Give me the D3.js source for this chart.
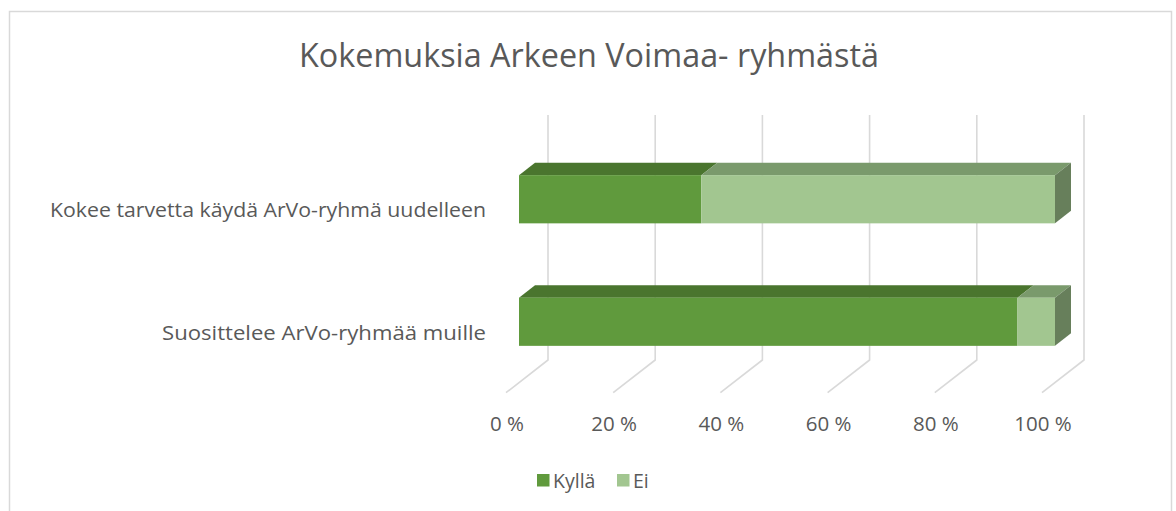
<!DOCTYPE html>
<html>
<head>
<meta charset="utf-8">
<script src="https://cdn.jsdelivr.net/npm/d3@7/dist/d3.min.js"></script>
<style>
  html, body { margin: 0; padding: 0; background: #fff; }
  svg { display: block; font-family: "Open Sans", "Noto Sans", sans-serif; }
</style>
</head>
<body>
<svg id="chart" width="1176" height="511"></svg>
<script>
// ---- data ----
const title = "Kokemuksia Arkeen Voimaa- ryhmästä";
const categories = ["Kokee tarvetta käydä ArVo-ryhmä uudelleen", "Suosittelee ArVo-ryhmää muille"];
const seriesNames = ["Kyllä", "Ei"];
const kylla = [34, 93];
const ei = [66, 7];
const tickValues = [0, 20, 40, 60, 80, 100];
const tickLabels = ["0 %", "20 %", "40 %", "60 %", "80 %", "100 %"];

// ---- styles ----
const frontColors = ["#609a3d", "#a2c690"];
const topColors = ["#4a752e", "#7a9a6c"];
const sideColors = ["#3f6427", "#677f5b"];
const textColor = "#595959";
const gridColor = "#d9d9d9";
const catLabelWidths = [436, 324];

const svg = d3.select("#chart");

// chart border
svg.append("rect")
  .attr("x", 9.5).attr("y", 11.5).attr("width", 1162).attr("height", 520)
  .attr("fill", "#fff").attr("stroke", "#d9d9d9").attr("stroke-width", 1.5);

// scales
const x = d3.scaleLinear().domain([0, 100]).range([519, 1055]);
const y = d3.scaleBand().domain(categories).range([138, 383])
  .paddingInner(0.6066).paddingOuter(0.3033);

// 3D geometry: depth offsets
const barDx = 16, barDy = -12.5;         // bar depth
const frontDx = -13, frontDy = 10.2;     // from bar front to floor front edge
const backDx = 29, backDy = -22.5;       // from bar front to back wall
const wallTop = 115, wallBottom = 360;

// gridlines: back wall vertical + floor diagonal
const g = svg.append("g");
tickValues.forEach(v => {
  const bx = x(v) + backDx;
  const fx = x(v) + frontDx;
  g.append("path")
    .attr("d", `M${bx},${wallTop} L${bx},${wallBottom} L${fx},${wallBottom + (frontDy - backDy)}`)
    .attr("fill", "none").attr("stroke", gridColor).attr("stroke-width", 1.6);
});

// tick labels
svg.append("g").selectAll("text").data(tickValues).join("text")
  .attr("x", d => x(d) + frontDx + 1)
  .attr("y", 431)
  .attr("text-anchor", "middle")
  .attr("fill", textColor)
  .attr("font-size", 20.5)
  .text((d, i) => tickLabels[i]);

// stacked data
const rows = categories.map((c, i) => ({ cat: c, Kyllä: kylla[i], Ei: ei[i] }));
const stack = d3.stack().keys(seriesNames)(rows);

const bars = svg.append("g");
stack.forEach((layer, si) => {
  layer.forEach(seg => {
    const cat = seg.data.cat;
    const x0 = x(seg[0]), x1 = x(seg[1]);
    const y0 = y(cat), h = y.bandwidth();
    // top face
    bars.append("path")
      .attr("d", `M${x0},${y0} L${x0 + barDx},${y0 + barDy} L${x1 + barDx},${y0 + barDy} L${x1},${y0} Z`)
      .attr("fill", topColors[si]);
    // front face
    bars.append("rect")
      .attr("x", x0).attr("y", y0).attr("width", x1 - x0).attr("height", h)
      .attr("fill", frontColors[si]);
    // right side (only last segment visible)
    if (si === stack.length - 1) {
      bars.append("path")
        .attr("d", `M${x1},${y0} L${x1 + barDx},${y0 + barDy} L${x1 + barDx},${y0 + barDy + h} L${x1},${y0 + h} Z`)
        .attr("fill", sideColors[si]);
    }
  });
});

// category labels
svg.append("g").selectAll("text").data(categories).join("text")
  .attr("x", 486)
  .attr("y", d => y(d) + y.bandwidth() / 2 + 18)
  .attr("text-anchor", "end")
  .attr("fill", textColor)
  .attr("font-size", 20.5)
  .attr("textLength", (d, i) => catLabelWidths[i])
  .attr("lengthAdjust", "spacingAndGlyphs")
  .text(d => d);

// title
svg.append("text")
  .attr("x", 589).attr("y", 67)
  .attr("text-anchor", "middle")
  .attr("fill", textColor)
  .attr("font-size", 32)
  .attr("textLength", 580)
  .attr("lengthAdjust", "spacingAndGlyphs")
  .text(title);

// legend
const legend = svg.append("g");
const legendX = [537, 617];
seriesNames.forEach((name, i) => {
  legend.append("rect")
    .attr("x", legendX[i]).attr("y", 474).attr("width", 12.5).attr("height", 12.5)
    .attr("fill", frontColors[i]);
  legend.append("text")
    .attr("x", legendX[i] + 16).attr("y", 487.5)
    .attr("fill", textColor)
    .attr("font-size", 19.5)
    .text(name);
});
</script>
</body>
</html>
